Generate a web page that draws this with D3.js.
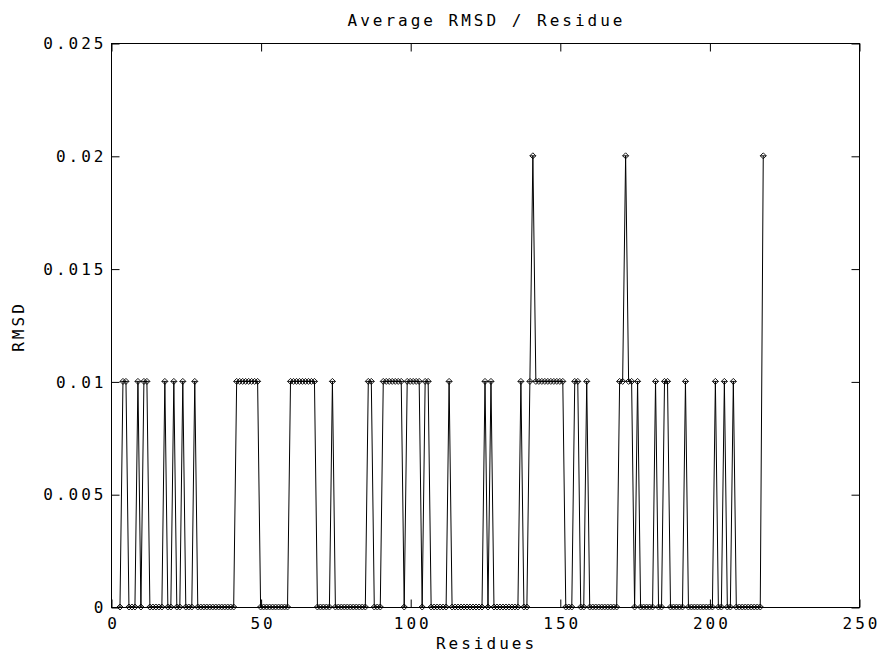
<!DOCTYPE html>
<html>
<head>
<meta charset="utf-8">
<script src="https://cdn.jsdelivr.net/npm/d3@7"></script>
<style>
  html, body { margin: 0; padding: 0; background: #fff; }
  svg { display: block; }
  text { font-family: "DejaVu Sans Mono", monospace; fill: #000; }
</style>
</head>
<body>
<svg id="chart" width="883" height="655"></svg>
<script>
// ---- data ----
const title = "Average RMSD / Residue";
const xLabel = "Residues";
const yLabel = "RMSD";
const firstResidue = 3;
const rmsd = [
  0,.01,.01,0,0,0,.01,0,.01,.01,
  0,0,0,0,0,.01,0,0,.01,0,
  0,.01,0,0,0,.01,0,0,0,0,
  0,0,0,0,0,0,0,0,0,.01,
  .01,.01,.01,.01,.01,.01,.01,0,0,0,
  0,0,0,0,0,0,0,.01,.01,.01,
  .01,.01,.01,.01,.01,.01,0,0,0,0,
  0,.01,0,0,0,0,0,0,0,0,
  0,0,0,.01,.01,0,0,0,.01,.01,
  .01,.01,.01,.01,.01,0,.01,.01,.01,.01,
  .01,0,.01,.01,0,0,0,0,0,0,
  .01,0,0,0,0,0,0,0,0,0,
  0,0,.01,0,.01,0,0,0,0,0,
  0,0,0,0,.01,0,0,.01,.02,.01,
  .01,.01,.01,.01,.01,.01,.01,.01,.01,0,
  0,0,.01,.01,0,0,.01,0,0,0,
  0,0,0,0,0,0,0,.01,.01,.02,
  .01,.01,0,.01,0,0,0,0,0,.01,
  0,0,.01,.01,0,0,0,0,0,.01,
  0,0,0,0,0,0,0,0,0,.01,
  0,0,.01,0,0,.01,0,0,0,0,
  0,0,0,0,0,.02
];
const residues = d3.range(firstResidue, firstResidue + rmsd.length);
const xTicks = [0, 50, 100, 150, 200, 250];
const yTicks = [0, 0.005, 0.01, 0.015, 0.02, 0.025];
const yTickLabels = ["0", "0.005", "0.01", "0.015", "0.02", "0.025"];

// ---- layout ----
const L = 111, R = 859, T = 43, B = 607;
const svg = d3.select("#chart");
const x = d3.scaleLinear().domain([0, 250]).range([L, R]);
const y = d3.scaleLinear().domain([0, 0.025]).range([B, T]);
const tickLen = 8;
const fontSize = 16;
const lsNum = 3;
const ls = lsNum + "px";

// border
svg.append("rect").attr("x", L + 0.5).attr("y", T + 0.5)
  .attr("width", R - L).attr("height", B - T)
  .attr("fill", "none").attr("stroke", "#000").attr("stroke-width", 1);

// axes (inward ticks, mirrored)
const gB = svg.append("g").attr("transform", `translate(0.5,${B + 0.5})`)
  .call(d3.axisBottom(x).tickValues(xTicks).tickSizeInner(-tickLen).tickSizeOuter(0).tickPadding(tickLen + 2).tickFormat(d3.format("d")));
const gT = svg.append("g").attr("transform", `translate(0.5,${T + 0.5})`)
  .call(d3.axisTop(x).tickValues(xTicks).tickSizeInner(-tickLen).tickSizeOuter(0).tickFormat(""));
const gL = svg.append("g").attr("transform", `translate(${L + 0.5},0.5)`)
  .call(d3.axisLeft(y).tickValues(yTicks).tickSizeInner(-tickLen).tickSizeOuter(0).tickPadding(8 - lsNum)
    .tickFormat((d, i) => yTickLabels[i]));
const gR = svg.append("g").attr("transform", `translate(${R + 0.5},0.5)`)
  .call(d3.axisRight(y).tickValues(yTicks).tickSizeInner(-tickLen).tickSizeOuter(0).tickFormat(""));
[gB, gT, gL, gR].forEach(g => {
  g.select(".domain").remove();
  g.selectAll("line").attr("stroke", "#000");
  g.selectAll("text").attr("font-size", fontSize).attr("font-family", "DejaVu Sans Mono, monospace")
    .style("letter-spacing", ls).attr("fill", "#000");
});
gB.selectAll("text").attr("dx", lsNum / 2);

// line
const line = d3.line().x((d, i) => x(residues[i])).y(d => y(d));
svg.append("path").datum(rmsd)
  .attr("d", line).attr("fill", "none").attr("stroke", "#000").attr("stroke-width", 1);

// markers (small diamonds with cross)
const mk = svg.append("g");
rmsd.forEach((v, i) => {
  const cx = x(residues[i]), cy = y(v), r = 3;
  mk.append("path")
    .attr("d", `M${cx - r},${cy} L${cx},${cy - r} L${cx + r},${cy} L${cx},${cy + r} Z M${cx - r},${cy} L${cx + r},${cy}`)
    .attr("fill", "none").attr("stroke", "#000").attr("stroke-width", 0.9);
});

// titles
svg.append("text").attr("x", (L + R) / 2 + lsNum / 2).attr("y", 26).attr("text-anchor", "middle")
  .attr("font-size", fontSize).style("letter-spacing", ls).text(title);
svg.append("text").attr("x", (L + R) / 2 + lsNum / 2).attr("y", 649).attr("text-anchor", "middle")
  .attr("font-size", fontSize).style("letter-spacing", ls).text(xLabel);
svg.append("text").attr("transform", `translate(24,${(T + B) / 2 + lsNum / 2}) rotate(-90)`).attr("text-anchor", "middle")
  .attr("font-size", fontSize).style("letter-spacing", ls).text(yLabel);
</script>
</body>
</html>
